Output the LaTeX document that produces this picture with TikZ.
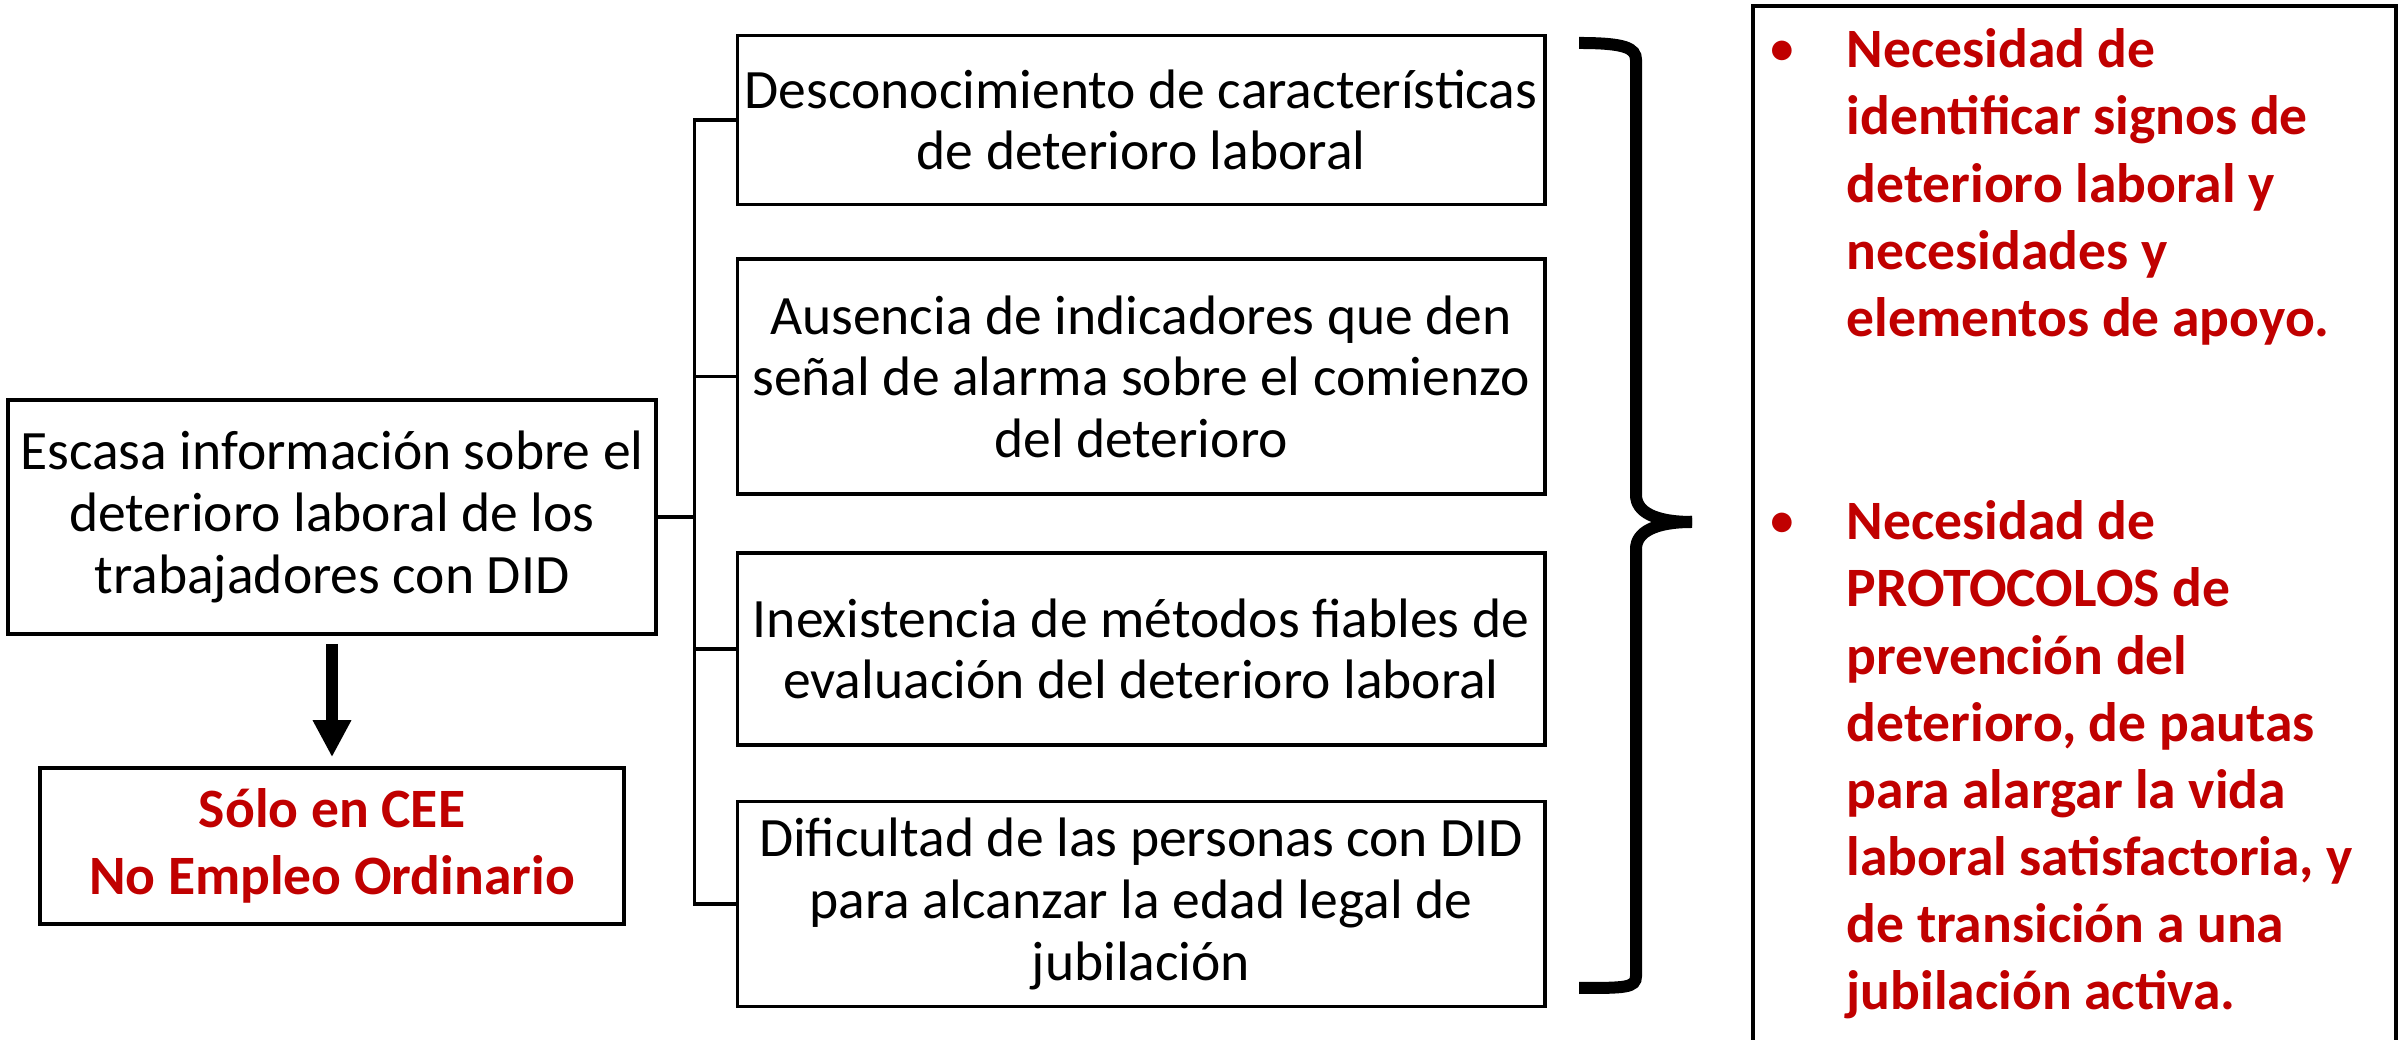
\documentclass[tikz,border=0pt]{standalone}
\usepackage{fontspec}
\setmainfont{Carlito}
\usepackage{tikz}
\usetikzlibrary{arrows.meta, positioning}
\definecolor{dred}{RGB}{192,0,0}

\begin{document}
\begin{tikzpicture}[x=0.01cm, y=0.01cm,
  cell/.style={draw, line width=1pt, inner sep=0pt, align=center,
    minimum width=8.07cm, font=\fontsize{15.8}{17.5}\selectfont},
  need/.style={anchor=north west, inner sep=0pt, align=left, text=dred,
    font=\bfseries\fontsize{15.8}{19.1}\selectfont},
  dot/.style={anchor=base, inner sep=0pt, text=dred,
    font=\fontsize{15.8}{19.1}\selectfont},
  link/.style={line width=1pt}]
  \useasboundingbox (0,0) rectangle (2407,1040);
  % left side
  \node[cell, minimum width=6.48cm, minimum height=2.34cm] (info) at (332,523)
    {Escasa información sobre el\\deterioro laboral de los\\trabajadores con DID};
  \node[cell, minimum width=5.84cm, minimum height=1.56cm, text=dred,
    font=\bfseries\fontsize{15.8}{19.1}\selectfont] (cee) at (332,194)
    {Sólo en CEE\\No Empleo Ordinario};
  \draw[line width=0.12cm, -{Triangle[width=0.36cm, length=0.37cm]},
    shorten <=0.08cm, shorten >=0.09cm] (info) -- (cee);
  % middle column
  \node[cell, minimum height=1.69cm] (c1) at (1141,920)
    {Desconocimiento de características\\de deterioro laboral};
  \node[cell, minimum height=2.35cm] (c2) [below=0.51cm of c1]
    {Ausencia de indicadores que den\\señal de alarma sobre el comienzo\\del deterioro};
  \node[cell, minimum height=1.92cm] (c3) [below=0.55cm of c2]
    {Inexistencia de métodos fiables de\\evaluación del deterioro laboral};
  \node[cell, minimum height=2.05cm] (c4) [below=0.53cm of c3]
    {Dificultad de las personas con DID\\para alcanzar la edad legal de\\jubilación};
  \draw[link] (c1.west) -- ++(-41,0) coordinate (t) |- (c4.west);
  \draw[link] (c2.west) -- (c2.west -| t);
  \draw[link] (c3.west) -- (c3.west -| t);
  \draw[link] (info.east) -- (info.east -| t);
  % brace
  \draw[line width=0.12cm] (1579,997) .. controls (1625,997) and (1636,992) .. (1636,980)
    -- (1636,545) .. controls (1636,528) and (1655,518) .. (1692,518);
  \draw[line width=0.12cm] (1692,518) .. controls (1655,518) and (1636,508) .. (1636,491)
    -- (1636,64) .. controls (1636,52) and (1625,52) .. (1579,52);
  % right side
  \draw[link] (1753,0) |- (2396,1034) -- (2396,0);
  \node[need] (n1) at (1846,1012)
    {Necesidad de\\identificar signos de\\deterioro laboral y\\necesidades y\\elementos de apoyo.};
  \node[need] (n2) at (1846,540)
    {Necesidad de\\PROTOCOLOS de\\prevención del\\deterioro, de pautas\\para alargar la vida\\laboral satisfactoria, y\\de transición a una\\jubilación activa.};
  \node[dot] (b1) at (1782,973) {•};
  \node[dot] (b2) at (1782,501) {•};
\end{tikzpicture}
\end{document}
